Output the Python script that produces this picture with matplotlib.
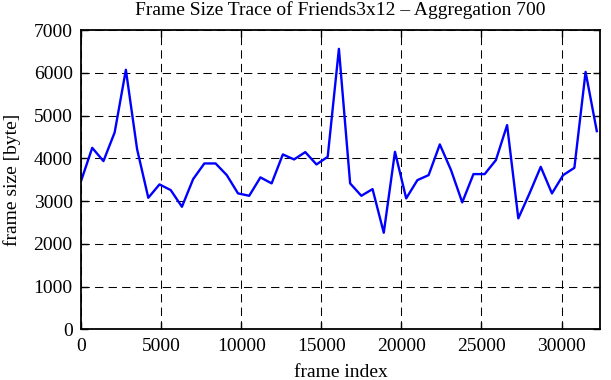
import matplotlib
matplotlib.use("Agg")
import matplotlib.pyplot as plt
import numpy as np

plt.rcParams['font.family'] = ['Liberation Serif', 'DejaVu Serif']
plt.rcParams['font.size'] = 14

step = 700
frame_sizes = [3467, 4245, 3935, 4605, 6070, 4215, 3077, 3390, 3257, 2867,
               3514, 3880, 3880, 3607, 3180, 3124, 3554, 3414, 4091, 3974,
               4145, 3857, 4035, 6560, 3414, 3124, 3280, 2260, 4152, 3063,
               3490, 3607, 4325, 3724, 2970, 3631, 3631, 3958, 4776, 2596,
               3180, 3801, 3180, 3607, 3778, 6021, 4636]
frame_index = [i * step for i in range(len(frame_sizes))]
xticks = [0, 5000, 10000, 15000, 20000, 25000, 30000]
yticks = [0, 1000, 2000, 3000, 4000, 5000, 6000, 7000]

fig = plt.figure(figsize=(6.11, 3.80), dpi=100)
ax = fig.add_axes([0.1326, 0.1332, 0.982 - 0.1326, 0.921 - 0.1332])
ax.plot(frame_index, frame_sizes, color='#0000ff', lw=1.7)
ax.set_xlim(0, 32400)
ax.set_ylim(0, 7000)
ax.set_xticks(xticks)
ax.set_yticks(yticks)
ax.grid(True, color='black', lw=0.75, linestyle=(0, (8, 5)))
ax.tick_params(direction='in', top=True, right=True, length=5, width=1, pad=6)
for s in ax.spines.values():
    s.set_linewidth(1.3)
ax.set_xlabel('frame index', labelpad=7)
ax.set_ylabel('frame size [byte]', labelpad=9)
ax.set_title('Frame Size Trace of Friends3x12 \u2013 Aggregation 700', fontsize=14, pad=11)
fig.savefig('out.png', dpi=100)
